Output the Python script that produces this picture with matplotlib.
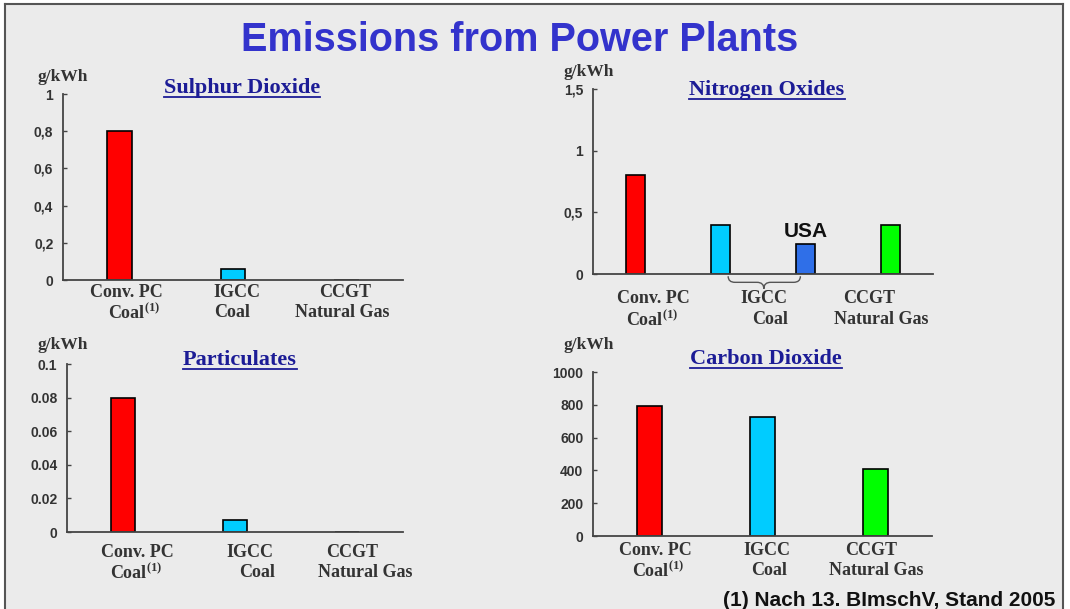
import matplotlib.pyplot as plt
from matplotlib.lines import Line2D
from matplotlib.patches import PathPatch
from matplotlib.path import Path
from matplotlib.transforms import blended_transform_factory

# emissions per plant type, g/kWh
so2_values = [0.8, 0.06, 0.0]
nox_values = [0.8, 0.4, 0.24, 0.4]
dust_values = [0.08, 0.007, 0.0]
co2_values = [790, 725, 410]

so2_ticks = [0, 0.2, 0.4, 0.6, 0.8, 1]
so2_ticklabels = ['0', '0,2', '0,4', '0,6', '0,8', '1']
nox_ticks = [0, 0.5, 1, 1.5]
nox_ticklabels = ['0', '0,5', '1', '1,5']
dust_ticks = [0, 0.02, 0.04, 0.06, 0.08, 0.1]
dust_ticklabels = ['0', '0.02', '0.04', '0.06', '0.08', '0.1']
co2_ticks = [0, 200, 400, 600, 800, 1000]
co2_ticklabels = ['0', '200', '400', '600', '800', '1000']

RED = '#ff0000'
CYAN = '#00ccff'
BLUE = '#2f6fe8'
GREEN = '#00ff00'
BG = '#ebebeb'
TEXT = '#333333'
NAVY = '#1c1c96'

SERIF = 'Liberation Serif'
SANS = 'Liberation Sans'

plt.rcParams['mathtext.fontset'] = 'custom'
plt.rcParams['mathtext.rm'] = 'Liberation Serif:bold'
plt.rcParams['mathtext.bf'] = 'Liberation Serif:bold'

W, H = 1070, 609

fig = plt.figure(figsize=(W / 100, H / 100), dpi=100)
fig.patch.set_facecolor('white')

# slide background and frame
fig.add_artist(plt.Rectangle((5 / W, 0), 1058 / W, 1 - 4 / H, transform=fig.transFigure,
                             facecolor=BG, edgecolor='none', zorder=-10))
fig.add_artist(Line2D([5 / W, 5 / W], [0, 1 - 4 / H], transform=fig.transFigure, color='#555555', lw=1.5))
fig.add_artist(Line2D([5 / W, 1063 / W], [1 - 4 / H, 1 - 4 / H], transform=fig.transFigure, color='#555555', lw=1.5))
fig.add_artist(Line2D([1063 / W, 1063 / W], [0, 1 - 4 / H], transform=fig.transFigure, color='#555555', lw=1.5))


def px_axes(left, right, top, bottom):
    return fig.add_axes([left / W, (H - bottom) / H, (right - left) / W, (bottom - top) / H])


def style_axis(ax, ymax, ticks, ticklabels, xmax):
    ax.set_facecolor('none')
    ax.set_xlim(-0.5, xmax)
    ax.set_ylim(0, ymax)
    for s in ['top', 'right']:
        ax.spines[s].set_visible(False)
    for s in ['left', 'bottom']:
        ax.spines[s].set_color('#444444')
        ax.spines[s].set_linewidth(1.3)
    ax.set_xticks([])
    ax.set_yticks(ticks)
    ax.set_yticklabels(ticklabels, fontfamily=SANS, fontweight='bold', fontsize=10, color=TEXT)
    ax.tick_params(axis='y', direction='in', length=3, width=1, color='#444444', pad=7)


def cat_label(ax, x, y, text):
    tr = blended_transform_factory(ax.transData, ax.transAxes)
    ax.text(x, y, text, transform=tr, ha='center', va='center', fontfamily=SERIF,
            fontweight='bold', fontsize=13, color=TEXT, clip_on=False)


def unit_label(x, y):
    fig.text(x / W, 1 - y / H, 'g/kWh', fontfamily=SERIF, fontweight='bold', fontsize=12.5,
             color=TEXT, ha='left', va='center')


titles = []


def panel_title(x, y, text):
    t = fig.text(x / W, 1 - y / H, text, fontfamily=SERIF, fontweight='bold', fontsize=16,
                 color=NAVY, ha='center', va='center')
    titles.append(t)


COAL1 = 'Coal$^{\\mathrm{(1)}}$'
bar_kw = dict(width=0.22, edgecolor='black', linewidth=1.2)

# Sulphur dioxide
ax1 = px_axes(63, 403, 94, 280)
ax1.bar([0, 1, 2], so2_values, color=[RED, CYAN, GREEN], **bar_kw)
style_axis(ax1, 1, so2_ticks, so2_ticklabels, 2.5)
cat_label(ax1, 0.06, -0.065, 'Conv. PC')
cat_label(ax1, 0.13, -0.175, COAL1)
cat_label(ax1, 1.03, -0.065, 'IGCC')
cat_label(ax1, 0.99, -0.175, 'Coal')
cat_label(ax1, 1.99, -0.065, 'CCGT')
cat_label(ax1, 1.96, -0.175, 'Natural Gas')
unit_label(38, 77)
panel_title(242, 88, 'Sulphur Dioxide')

# Nitrogen oxides
ax2 = px_axes(593, 933, 89, 274)
ax2.bar([0, 1, 2, 3], nox_values, color=[RED, CYAN, BLUE, GREEN], **bar_kw)
style_axis(ax2, 1.5, nox_ticks, nox_ticklabels, 3.5)
cat_label(ax2, 0.21, -0.13, 'Conv. PC')
cat_label(ax2, 0.19, -0.245, COAL1)
cat_label(ax2, 1.51, -0.13, 'IGCC')
cat_label(ax2, 1.58, -0.245, 'Coal')
cat_label(ax2, 2.75, -0.13, 'CCGT')
cat_label(ax2, 2.89, -0.245, 'Natural Gas')
ax2.text(2, nox_values[2] + 0.03, 'USA', ha='center', va='bottom', fontfamily=SANS,
         fontweight='bold', fontsize=15, color='#111111')
# brace grouping the two IGCC bars
tr2 = blended_transform_factory(ax2.transData, ax2.transAxes)
x0, x1, xm = 1.09, 1.94, 1.51
y0, y1, y2 = -0.012, -0.045, -0.08
verts = [(x0, y0), (x0, y1), (x0 + 0.08, y1),
         (xm - 0.08, y1), (xm, y1), (xm, y2),
         (xm, y1), (xm + 0.08, y1),
         (x1 - 0.08, y1), (x1, y1), (x1, y0)]
codes = [Path.MOVETO, Path.CURVE3, Path.CURVE3,
         Path.LINETO, Path.CURVE3, Path.CURVE3,
         Path.CURVE3, Path.CURVE3,
         Path.LINETO, Path.CURVE3, Path.CURVE3]
ax2.add_patch(PathPatch(Path(verts, codes), transform=tr2, facecolor='none',
                        edgecolor='#555555', lw=1.0, clip_on=False))
unit_label(563, 72)
panel_title(767, 90, 'Nitrogen Oxides')

# Particulates
ax3 = px_axes(67, 403, 364, 532)
ax3.bar([0, 1, 2], dust_values, color=[RED, CYAN, GREEN], **bar_kw)
style_axis(ax3, 0.1, dust_ticks, dust_ticklabels, 2.5)
cat_label(ax3, 0.13, -0.12, 'Conv. PC')
cat_label(ax3, 0.12, -0.24, COAL1)
cat_label(ax3, 1.13, -0.12, 'IGCC')
cat_label(ax3, 1.2, -0.24, 'Coal')
cat_label(ax3, 2.05, -0.12, 'CCGT')
cat_label(ax3, 2.16, -0.24, 'Natural Gas')
unit_label(38, 345)
panel_title(240, 360, 'Particulates')

# Carbon dioxide
ax4 = px_axes(593, 932, 372, 536)
ax4.bar([0, 1, 2], co2_values, color=[RED, CYAN, GREEN], **bar_kw)
style_axis(ax4, 1000, co2_ticks, co2_ticklabels, 2.5)
cat_label(ax4, 0.05, -0.09, 'Conv. PC')
cat_label(ax4, 0.08, -0.21, COAL1)
cat_label(ax4, 1.04, -0.09, 'IGCC')
cat_label(ax4, 1.06, -0.21, 'Coal')
cat_label(ax4, 1.96, -0.09, 'CCGT')
cat_label(ax4, 2.01, -0.21, 'Natural Gas')
unit_label(563, 345)
panel_title(766, 359, 'Carbon Dioxide')

fig.text(520 / W, 1 - 40 / H, 'Emissions from Power Plants', fontfamily=SANS, fontweight='bold',
         fontsize=28.5, color='#3333cc', ha='center', va='center')
fig.text(1055 / W, 1 - 600 / H, '(1) Nach 13. BImschV, Stand 2005', fontfamily=SANS,
         fontweight='bold', fontsize=15, color='#111111', ha='right', va='center')

# underline the panel titles
fig.canvas.draw()
renderer = fig.canvas.get_renderer()
for t in titles:
    bb = t.get_window_extent(renderer).transformed(fig.transFigure.inverted())
    fig.add_artist(Line2D([bb.x0, bb.x1], [bb.y0 + 0.002, bb.y0 + 0.002], transform=fig.transFigure,
                          color=NAVY, lw=1.3))

fig.savefig('out.png', dpi=100, facecolor=fig.get_facecolor())
